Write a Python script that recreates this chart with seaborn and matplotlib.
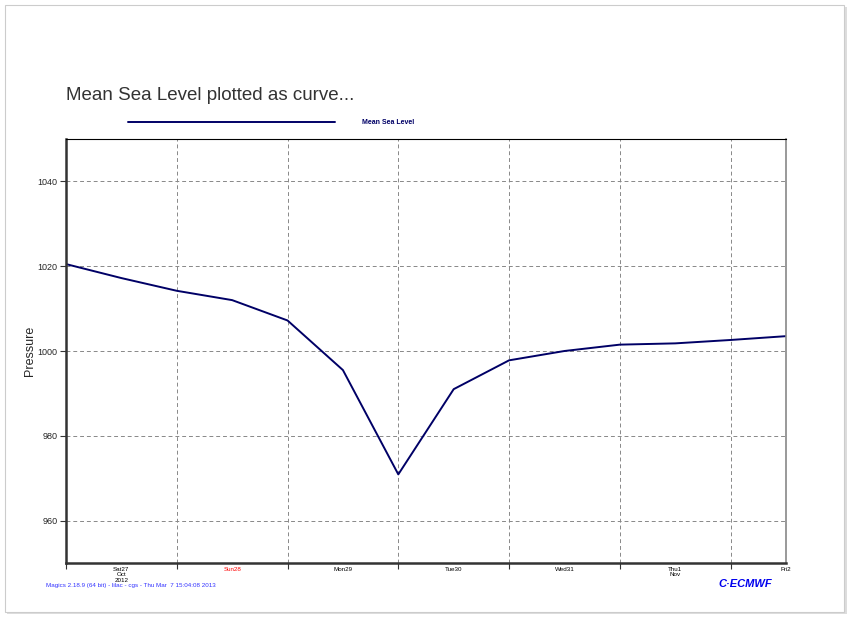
import numpy as np
import pandas as pd
import matplotlib
matplotlib.use("Agg")
import matplotlib.pyplot as plt
import matplotlib.dates as mdates
from matplotlib.patches import Rectangle
import seaborn as sns

sns.set_style("white")
plt.rcParams['font.family'] = ['Liberation Sans', 'DejaVu Sans']

# 12-hourly mean sea level pressure
times = pd.date_range("2012-10-27 00:00", periods=14, freq="12h")
msl = [1020.5, 1017.2, 1014.2, 1012.0, 1007.2, 995.5, 970.9,
       991.0, 997.8, 1000.0, 1001.5, 1001.8, 1002.6, 1003.5]
day_labels = ["Sat27\nOct\n2012", "Sun28", "Mon29", "Tue30", "Wed31", "Thu1\nNov", "Fri2"]
day_colors = ["black", "red", "black", "black", "black", "black", "black"]
yticks = [960, 980, 1000, 1020, 1040]

df = pd.DataFrame({"time": times, "msl": msl})

fig = plt.figure(figsize=(8.52, 6.18), dpi=100)

# page frame with a soft shadow
fig.patches.append(Rectangle((7 / 852, 4 / 618), 840 / 852, 607 / 618, transform=fig.transFigure,
                             facecolor="#dddddd", edgecolor="none", zorder=-3))
fig.patches.append(Rectangle((5 / 852, 6 / 618), 839 / 852, 607 / 618, transform=fig.transFigure,
                             facecolor="white", edgecolor="#cccccc", lw=0.8, zorder=-2))

ax = fig.add_axes([66 / 852, 1 - 563 / 618, 720 / 852, 424 / 618])
ax.set_facecolor("none")
ax.set_zorder(2)

sns.lineplot(data=df, x="time", y="msl", ax=ax, color="#000066", lw=1.4, label="Mean Sea Level")

ax.set_xlim(times[0], times[-1])
ax.set_ylim(950, 1050)
ax.set_yticks(yticks)
ax.set_yticklabels([str(v) for v in yticks], fontsize=6.5)

# gridlines at midnight, labels at noon
ax.set_xticks(pd.date_range("2012-10-27", periods=7, freq="D"))
ax.xaxis.set_major_formatter(plt.NullFormatter())
ax.set_xticks(times[1::2], minor=True)
ax.set_xticklabels(day_labels, minor=True, fontsize=4.5, linespacing=1.05)
for lbl, c in zip(ax.get_xticklabels(minor=True), day_colors):
    lbl.set_color(c)
ax.tick_params(axis="x", which="minor", length=0, pad=3)
ax.tick_params(axis="x", which="major", length=4, width=0.8, direction="out", bottom=True, color="#333333")
ax.tick_params(axis="y", length=4.5, width=0.8, direction="out", left=True, color="#333333", pad=1.5)

ax.grid(True, which="major", color="#888888", ls=(0, (4, 3)), lw=0.7)
ax.set_xlabel("")
ax.set_ylabel("Pressure", fontsize=9)
ax.yaxis.set_label_coords(-30 / 720, 0.5)

for side in ["left", "bottom"]:
    ax.spines[side].set_color("#333333")
    ax.spines[side].set_linewidth(1.8)
ax.spines["top"].set_color("black")
ax.spines["top"].set_linewidth(0.8)
ax.spines["right"].set_color("#888888")
ax.spines["right"].set_linewidth(1.2)

ax.legend_.remove()
# legend row above the plot
fig.lines.append(plt.Line2D([128 / 852, 335 / 852], [1 - 122 / 618] * 2, transform=fig.transFigure,
                            color="#000066", lw=1.4))
fig.text(362 / 852, 1 - 122 / 618, "Mean Sea Level", fontsize=5, color="#000066",
         fontweight="bold", va="center", ha="left")

fig.text(66 / 852, 1 - 96 / 618, "Mean Sea Level plotted as curve...", fontsize=13.5,
         color="#333333", va="center", ha="left")

fig.text(46 / 852, 1 - 586 / 618, "Magics 2.18.9 (64 bit) - lilac - cgs - Thu Mar  7 15:04:08 2013",
         fontsize=4.5, color="#3333ff", va="center", ha="left")
fig.text(718 / 852, 1 - 584 / 618, "C·ECMWF", fontsize=8, color="#0000ee", fontweight="heavy",
         fontstyle="italic", va="center", ha="left")

fig.savefig("out.png", dpi=100)
